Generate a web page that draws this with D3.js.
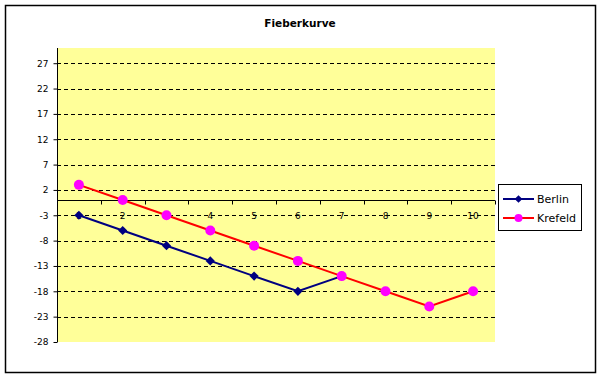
<!DOCTYPE html>
<html>
<head>
<meta charset="utf-8">
<script src="https://cdn.jsdelivr.net/npm/d3@7"></script>
<style>
  body { margin: 0; background: #fff; }
  svg { display: block; font-family: "DejaVu Sans", Verdana, sans-serif; }
</style>
</head>
<body>
<div id="chart"></div>
<script>
// chart data
const categories = [1, 2, 3, 4, 5, 6, 7, 8, 9, 10];
const berlin = [-3, -6, -9, -12, -15, -18, -15];
const krefeld = [3, 0, -3, -6, -9, -12, -15, -18, -21, -18];
const yTicks = [-28, -23, -18, -13, -8, -3, 2, 7, 12, 17, 22, 27];
const seriesNames = ["Berlin", "Krefeld"];

const width = 601, height = 379;
const plot = {left: 57, right: 495, top: 48, bottom: 342};

const svg = d3.select("#chart").append("svg")
  .attr("width", width)
  .attr("height", height);

svg.append("rect")
  .attr("width", width).attr("height", height)
  .attr("fill", "#fff");

// outer chart border
svg.append("rect")
  .attr("x", 5.5).attr("y", 5.5)
  .attr("width", 590).attr("height", 367)
  .attr("fill", "none")
  .attr("stroke", "#000")
  .attr("stroke-width", 1.5);

svg.append("text")
  .attr("x", 300)
  .attr("y", 27)
  .attr("text-anchor", "middle")
  .attr("font-size", "10.5px")
  .attr("font-weight", "bold")
  .text("Fieberkurve");

const x = d3.scaleBand().domain(categories).range([plot.left, plot.right]).padding(0);
const y = d3.scaleLinear().domain([-28, 30]).range([plot.bottom, plot.top]);
const cx = d => x(d) + x.bandwidth() / 2;

// plot area background
svg.append("rect")
  .attr("x", plot.left).attr("y", plot.top)
  .attr("width", plot.right - plot.left)
  .attr("height", plot.bottom - plot.top)
  .attr("fill", "#ffff99");

// dashed gridlines
svg.append("g")
  .selectAll("line")
  .data(yTicks.filter(d => d !== -28))
  .join("line")
  .attr("x1", plot.left).attr("x2", plot.right)
  .attr("y1", d => Math.round(y(d)) + 0.5)
  .attr("y2", d => Math.round(y(d)) + 0.5)
  .attr("stroke", "#000")
  .attr("stroke-dasharray", "4,3");

// y axis
const yAxis = d3.axisLeft(y)
  .tickValues(yTicks)
  .tickSize(4)
  .tickPadding(5)
  .tickFormat(d => d);

const yAxisG = svg.append("g")
  .attr("transform", `translate(${plot.left + 0.5},0)`)
  .call(yAxis);
yAxisG.select(".domain")
  .attr("d", `M0,${plot.top}V${plot.bottom}`);
yAxisG.selectAll("text")
  .attr("font-size", "9px")
  .attr("font-family", "DejaVu Sans, sans-serif")
  .attr("fill", "#000");

// x axis crosses at y = 0, ticks sit between categories
const y0 = Math.round(y(0)) + 0.5;
const xAxisG = svg.append("g").attr("transform", `translate(0,${y0})`);
xAxisG.append("line")
  .attr("x1", plot.left).attr("x2", plot.right)
  .attr("stroke", "#000");
xAxisG.selectAll(".tick-mark")
  .data(categories.concat([null]))
  .join("line")
  .attr("class", "tick-mark")
  .attr("x1", (d, i) => Math.round(i < categories.length ? x(d) : plot.right) + 0.5)
  .attr("x2", (d, i) => Math.round(i < categories.length ? x(d) : plot.right) + 0.5)
  .attr("y1", 0).attr("y2", 4)
  .attr("stroke", "#000");
xAxisG.selectAll(".tick-label")
  .data(categories)
  .join("text")
  .attr("class", "tick-label")
  .attr("x", d => cx(d))
  .attr("y", 18)
  .attr("text-anchor", "middle")
  .attr("font-size", "9px")
  .text(d => d);

// series lines
const line = d3.line()
  .x((d, i) => cx(categories[i]))
  .y(d => y(d));

svg.append("path")
  .datum(krefeld)
  .attr("d", line)
  .attr("fill", "none")
  .attr("stroke", "#ff0000")
  .attr("stroke-width", 2);

svg.append("path")
  .datum(berlin)
  .attr("d", line)
  .attr("fill", "none")
  .attr("stroke", "#000080")
  .attr("stroke-width", 2);

// markers
svg.append("g")
  .selectAll("path")
  .data(berlin)
  .join("path")
  .attr("transform", (d, i) => `translate(${cx(categories[i])},${y(d)}) rotate(45)`)
  .attr("d", d3.symbol().type(d3.symbolSquare).size(42))
  .attr("fill", "#000080");

svg.append("g")
  .selectAll("circle")
  .data(krefeld)
  .join("circle")
  .attr("cx", (d, i) => cx(categories[i]))
  .attr("cy", d => y(d))
  .attr("r", 5)
  .attr("fill", "#ff00ff");

// legend
const legend = svg.append("g");
legend.append("rect")
  .attr("x", 498.5).attr("y", 184.5)
  .attr("width", 83).attr("height", 46)
  .attr("fill", "#fff")
  .attr("stroke", "#000");

const rows = legend.selectAll(".row")
  .data(seriesNames)
  .join("g")
  .attr("class", "row")
  .attr("transform", (d, i) => `translate(0,${199 + i * 19})`);

rows.append("line")
  .attr("x1", 503).attr("x2", 534)
  .attr("stroke", (d, i) => i === 0 ? "#000080" : "#ff0000")
  .attr("stroke-width", 2);

rows.filter((d, i) => i === 0).append("path")
  .attr("transform", "translate(518.5,0) rotate(45)")
  .attr("d", d3.symbol().type(d3.symbolSquare).size(30))
  .attr("fill", "#000080");

rows.filter((d, i) => i === 1).append("circle")
  .attr("cx", 518.5).attr("cy", 0).attr("r", 4)
  .attr("fill", "#ff00ff");

rows.append("text")
  .attr("x", 537)
  .attr("y", 4)
  .attr("font-size", "11px")
  .text(d => d);
</script>
</body>
</html>
